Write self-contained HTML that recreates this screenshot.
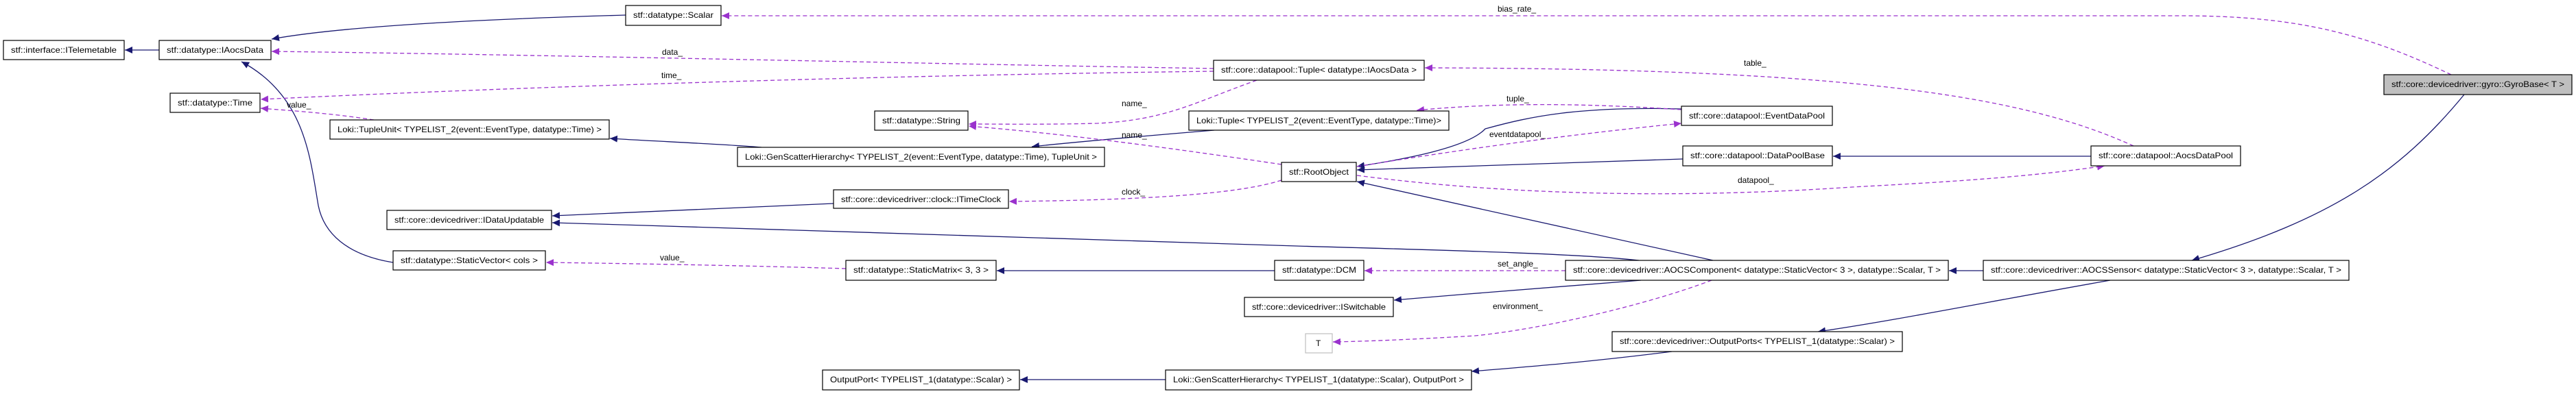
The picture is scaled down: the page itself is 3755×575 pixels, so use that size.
<!DOCTYPE html>
<html><head><meta charset="utf-8"><style>
html,body{margin:0;padding:0;background:#fff;}
svg{display:block;}
text{font-family:"Liberation Sans",sans-serif;font-size:12px;fill:#000;}
.n{fill:#fff;stroke:#000;stroke-width:1.2;}
.b{fill:none;stroke:#191970;stroke-width:1.3;marker-end:url(#ab);}
.p{fill:none;stroke:#9a32cd;stroke-width:1.3;stroke-dasharray:6,4;marker-end:url(#ap);}
</style></head><body>
<svg width="3755" height="575" viewBox="0 0 3755 575" xmlns="http://www.w3.org/2000/svg">
<defs>
<marker id="ab" markerUnits="userSpaceOnUse" markerWidth="12" markerHeight="10" refX="11" refY="5" orient="auto"><path d="M0,0 L11,5 L0,10 z" fill="#191970"/></marker>
<marker id="ap" markerUnits="userSpaceOnUse" markerWidth="12" markerHeight="10" refX="11" refY="5" orient="auto"><path d="M0,0 L11,5 L0,10 z" fill="#9a32cd"/></marker>
</defs>

<!-- edges -->
<path class="b" d="M232,73 L182,73"/>
<path class="b" d="M912,22 C700,28 500,38 396,57"/>
<path class="b" d="M573,383 C505,372 472,340 464,300 C452,230 445,140 352,90"/>
<path class="p" d="M1769,100 C1300,92 800,80 396,75"/>
<path class="p" d="M1769,104 C1300,110 800,125 380,145"/>
<path class="p" d="M545,175 C480,165 430,162 380,158"/>
<path class="b" d="M1110,215 C1050,210 950,206 889,202"/>
<path class="b" d="M1770,190 C1650,200 1580,206 1504,214"/>
<path class="p" d="M1832,117 C1740,150 1700,175 1600,180 C1520,182 1460,181 1412,181"/>
<path class="p" d="M1868,240 C1700,215 1550,195 1412,184"/>
<path class="p" d="M1868,263 C1800,285 1650,292 1471,294"/>
<path class="b" d="M1215,297 L805,315"/>
<path class="b" d="M2389,380 C2300,370 2100,365 1890,359 L940,329 L805,325"/>
<path class="p" d="M1233,392 C1100,388 950,385 796,383"/>
<path class="b" d="M1858,395 L1453,395"/>
<path class="p" d="M2282,395 L1989,395"/>
<path class="b" d="M2392,409 C2250,420 2150,428 2032,438"/>
<path class="p" d="M2495,409 C2400,445 2250,480 2150,490 C2050,496 1990,498 1943,499"/>
<path class="b" d="M2497,380 L1978,265"/>
<path class="b" d="M2451,159 C2300,155 2230,170 2165,188 C2140,215 2050,232 1978,243"/>
<path class="p" d="M2451,160 C2300,150 2180,150 2065,161"/>
<path class="p" d="M1978,243 C2150,215 2300,195 2451,180"/>
<path class="b" d="M2453,232 L1978,248"/>
<path class="b" d="M3048,228 L2672,228"/>
<path class="p" d="M3110,213 C2950,140 2700,100 2077,99"/>
<path class="p" d="M1978,256 C2200,285 2450,290 2700,273 C2850,265 2960,258 3068,242"/>
<path class="p" d="M3573,109 C3450,50 3350,23 3180,23 L1052,23"/>
<path class="b" d="M3592,138 C3500,250 3400,320 3195,380"/>
<path class="b" d="M2891,395 L2841,395"/>
<path class="b" d="M3076,409 C2900,440 2750,470 2650,484"/>
<path class="b" d="M2437,513 C2320,528 2230,535 2145,542"/>
<path class="b" d="M1699,554 L1487,554"/>

<!-- edge labels -->
<text x="965" y="80">data_</text>
<text x="964" y="114">time_</text>
<text x="418" y="157">value_</text>
<text x="1635" y="155">name_</text>
<text x="1635" y="201">name_</text>
<text x="1635" y="284">clock_</text>
<text x="962" y="380">value_</text>
<text x="2183" y="389">set_angle_</text>
<text x="2176" y="451">environment_</text>
<text x="2196" y="148">tuple_</text>
<text x="2171" y="200">eventdatapool_</text>
<text x="2542" y="96">table_</text>
<text x="2533" y="267">datapool_</text>
<text x="2183" y="17">bias_rate_</text>

<!-- nodes -->
<rect class="n" x="5" y="59" width="176" height="28"/><text x="16" y="77" textLength="154" lengthAdjust="spacingAndGlyphs">stf::interface::ITelemetable</text>
<rect class="n" x="232" y="59" width="163" height="28"/><text x="243" y="77" textLength="141" lengthAdjust="spacingAndGlyphs">stf::datatype::IAocsData</text>
<rect class="n" x="248" y="136" width="131" height="28"/><text x="259" y="154" textLength="109" lengthAdjust="spacingAndGlyphs">stf::datatype::Time</text>
<rect class="n" x="481" y="175" width="407" height="28"/><text x="492" y="193" textLength="385" lengthAdjust="spacingAndGlyphs">Loki::TupleUnit&lt; TYPELIST_2(event::EventType, datatype::Time) &gt;</text>
<rect class="n" x="912" y="8" width="139" height="29"/><text x="923" y="26" textLength="117" lengthAdjust="spacingAndGlyphs">stf::datatype::Scalar</text>
<rect class="n" x="564" y="307" width="240" height="28"/><text x="575" y="325" textLength="218" lengthAdjust="spacingAndGlyphs">stf::core::devicedriver::IDataUpdatable</text>
<rect class="n" x="573" y="366" width="222" height="28"/><text x="584" y="384" textLength="200" lengthAdjust="spacingAndGlyphs">stf::datatype::StaticVector&lt; cols &gt;</text>
<rect class="n" x="1769" y="88" width="307" height="29"/><text x="1780" y="106" textLength="285" lengthAdjust="spacingAndGlyphs">stf::core::datapool::Tuple&lt; datatype::IAocsData &gt;</text>
<rect class="n" x="1275" y="162" width="136" height="28"/><text x="1286" y="180" textLength="114" lengthAdjust="spacingAndGlyphs">stf::datatype::String</text>
<rect class="n" x="1733" y="162" width="379" height="28"/><text x="1744" y="180" textLength="357" lengthAdjust="spacingAndGlyphs">Loki::Tuple&lt; TYPELIST_2(event::EventType, datatype::Time)&gt;</text>
<rect class="n" x="1075" y="215" width="535" height="28"/><text x="1086" y="233" textLength="513" lengthAdjust="spacingAndGlyphs">Loki::GenScatterHierarchy&lt; TYPELIST_2(event::EventType, datatype::Time), TupleUnit &gt;</text>
<rect class="n" x="1868" y="237" width="109" height="28"/><text x="1879" y="255" textLength="87" lengthAdjust="spacingAndGlyphs">stf::RootObject</text>
<rect class="n" x="1215" y="277" width="255" height="27"/><text x="1226" y="295" textLength="233" lengthAdjust="spacingAndGlyphs">stf::core::devicedriver::clock::ITimeClock</text>
<rect class="n" x="1233" y="380" width="219" height="29"/><text x="1244" y="398" textLength="197" lengthAdjust="spacingAndGlyphs">stf::datatype::StaticMatrix&lt; 3, 3 &gt;</text>
<rect class="n" x="1858" y="380" width="130" height="29"/><text x="1869" y="398" textLength="108" lengthAdjust="spacingAndGlyphs">stf::datatype::DCM</text>
<rect class="n" x="1814" y="434" width="217" height="28"/><text x="1825" y="452" textLength="195" lengthAdjust="spacingAndGlyphs">stf::core::devicedriver::ISwitchable</text>
<rect class="n" x="1199" y="540" width="287" height="29"/><text x="1210" y="558" textLength="265" lengthAdjust="spacingAndGlyphs">OutputPort&lt; TYPELIST_1(datatype::Scalar) &gt;</text>
<rect class="n" x="1699" y="540" width="446" height="29"/><text x="1710" y="558" textLength="424" lengthAdjust="spacingAndGlyphs">Loki::GenScatterHierarchy&lt; TYPELIST_1(datatype::Scalar), OutputPort &gt;</text>
<rect class="n" x="2451" y="155" width="220" height="28"/><text x="2462" y="173" textLength="198" lengthAdjust="spacingAndGlyphs">stf::core::datapool::EventDataPool</text>
<rect class="n" x="2453" y="213" width="218" height="29"/><text x="2464" y="231" textLength="196" lengthAdjust="spacingAndGlyphs">stf::core::datapool::DataPoolBase</text>
<rect class="n" x="3048" y="213" width="218" height="29"/><text x="3059" y="231" textLength="196" lengthAdjust="spacingAndGlyphs">stf::core::datapool::AocsDataPool</text>
<rect x="3475" y="109" width="274" height="29" fill="#bfbfbf" stroke="#000" stroke-width="1.2"/><text x="3486" y="127" textLength="252" lengthAdjust="spacingAndGlyphs">stf::core::devicedriver::gyro::GyroBase&lt; T &gt;</text>
<rect class="n" x="2282" y="380" width="558" height="29"/><text x="2293" y="398" textLength="536" lengthAdjust="spacingAndGlyphs">stf::core::devicedriver::AOCSComponent&lt; datatype::StaticVector&lt; 3 &gt;, datatype::Scalar, T &gt;</text>
<rect x="1903" y="487" width="39" height="28" fill="#fff" stroke="#bfbfbf" stroke-width="1.2"/><text x="1918" y="505">T</text>
<rect class="n" x="2350" y="484" width="423" height="29"/><text x="2361" y="502" textLength="401" lengthAdjust="spacingAndGlyphs">stf::core::devicedriver::OutputPorts&lt; TYPELIST_1(datatype::Scalar) &gt;</text>
<rect class="n" x="2891" y="380" width="533" height="29"/><text x="2902" y="398" textLength="511" lengthAdjust="spacingAndGlyphs">stf::core::devicedriver::AOCSSensor&lt; datatype::StaticVector&lt; 3 &gt;, datatype::Scalar, T &gt;</text>
</svg>
</body></html>
